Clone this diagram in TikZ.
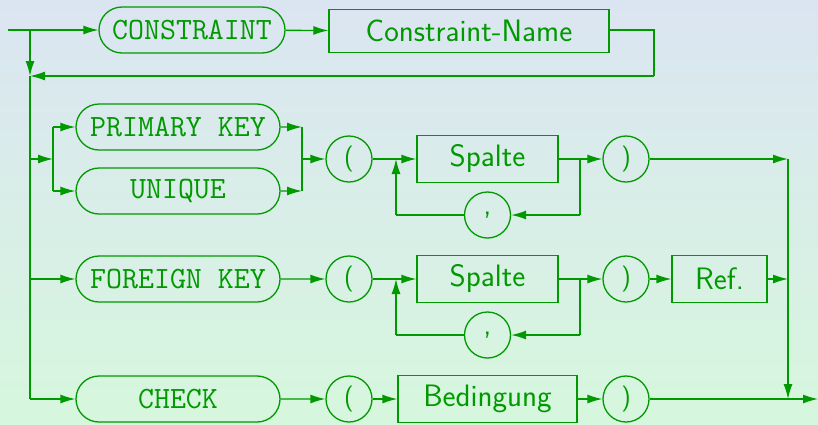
\documentclass[tikz,border=0pt]{standalone}
\usepackage{fontspec}
\usetikzlibrary{arrows.meta,shapes.misc}
\definecolor{synt}{RGB}{0,153,0}
\definecolor{bgtop}{RGB}{219,229,242}
\definecolor{bgbot}{RGB}{214,247,221}
\begin{document}
\begin{tikzpicture}[x=1pt,y=-1pt,
  every node/.style={font=\fontsize{31}{36}\selectfont, text=synt, draw=synt, line width=1.3pt, inner sep=0pt},
  kw/.style={rounded rectangle, minimum height=46pt, font=\fontsize{31}{36}\selectfont\ttfamily},
  nt/.style={rectangle, minimum height=47pt, font=\fontsize{31}{36}\selectfont\sffamily},
  tok/.style={circle, minimum size=46pt, font=\fontsize{26}{30}\selectfont\sffamily},
  line/.style={draw=synt, line width=1.3pt},
  arr/.style={line, -{Latex[length=15pt,width=9pt]}}]
  % background
  \shade[top color=bgtop, bottom color=bgbot] (0,0) rectangle (818,424);
  \useasboundingbox (0,0) rectangle (818,424);

  % nodes
  \node[kw, minimum width=186pt] (cons) at (192,30) {CONSTRAINT};
  \node[nt, minimum width=280pt, minimum height=43pt] (cname) at (469,31) {Constraint-Name};

  \node[kw, minimum width=204pt] (pk) at (178,127) {PRIMARY KEY};
  \node[kw, minimum width=204pt] (uq) at (178,191) {UNIQUE};
  \node[tok] (lp1) at (349,159) {(};
  \node[nt, minimum width=141pt] (sp1) at (487.5,159) {Spalte};
  \node[tok, font=\fontsize{31}{36}\selectfont\sffamily] (cm1) at (487.5,215) {\raisebox{4pt}{,}};
  \node[tok] (rp1) at (626,159) {)};

  \node[kw, minimum width=204pt] (fk) at (178,279) {FOREIGN KEY};
  \node[tok] (lp2) at (349,279) {(};
  \node[nt, minimum width=141pt] (sp2) at (487.5,279) {Spalte};
  \node[tok, font=\fontsize{31}{36}\selectfont\sffamily] (cm2) at (487.5,335) {\raisebox{4pt}{,}};
  \node[tok] (rp2) at (626,279) {)};
  \node[nt, minimum width=95pt] (ref) at (719.5,279) {Ref.};

  \node[kw, minimum width=204pt] (ck) at (178,399) {CHECK};
  \node[tok] (lp3) at (349,399) {(};
  \node[nt, minimum width=179pt] (bed) at (487.5,399) {Bedingung};
  \node[tok] (rp3) at (626,399) {)};

  % junction points
  \coordinate (start) at (8,30);
  \coordinate (a1) at (30,30);
  \coordinate (a2) at (30,76);
  \coordinate (a3) at (654,30);
  \coordinate (a4) at (654,76);
  \coordinate (b0) at (30,159);
  \coordinate (b1) at (53,159);
  \coordinate (b2) at (53,127);
  \coordinate (b3) at (53,191);
  \coordinate (c1) at (302,127);
  \coordinate (c2) at (302,191);
  \coordinate (c0) at (302,159);
  \coordinate (l1) at (396,159);
  \coordinate (l1b) at (396,215);
  \coordinate (m1) at (580,159);
  \coordinate (m1b) at (580,215);
  \coordinate (e1) at (788,159);
  \coordinate (f0) at (30,279);
  \coordinate (l2) at (396,279);
  \coordinate (l2b) at (396,335);
  \coordinate (m2) at (580,279);
  \coordinate (m2b) at (580,335);
  \coordinate (e2) at (788,279);
  \coordinate (g0) at (30,399);
  \coordinate (e3) at (788,399);
  \coordinate (fin) at (818,399);

  % first line: optional constraint name
  \draw[arr] (start) -- (cons);
  \draw[arr] (cons) -- (cname);
  \draw[line] (cname.east |- a3) -- (a3) -- (a4);
  \draw[arr] (a4) -- (a2);
  \draw[arr] (a1) -- (a2);
  \draw[line] (a2) -- (g0);

  % primary key / unique
  \draw[arr] (b0) -- (b1);
  \draw[line] (b2) -- (b3);
  \draw[arr] (b2) -- (pk);
  \draw[arr] (b3) -- (uq);
  \draw[arr] (pk) -- (c1);
  \draw[arr] (uq) -- (c2);
  \draw[line] (c1) -- (c2);
  \draw[arr] (c0) -- (lp1);
  \draw[arr] (lp1) -- (sp1);
  \draw[line] (sp1) -- (m1);
  \draw[arr] (m1) -- (rp1);
  \draw[line] (m1) -- (m1b);
  \draw[arr] (m1b) -- (cm1);
  \draw[line] (cm1) -- (l1b);
  \draw[arr] (l1b) -- (l1);
  \draw[arr] (rp1) -- (e1);
  \draw[arr] (e1) -- (e3);

  % foreign key
  \draw[arr] (f0) -- (fk);
  \draw[arr] (fk) -- (lp2);
  \draw[arr] (lp2) -- (sp2);
  \draw[line] (sp2) -- (m2);
  \draw[arr] (m2) -- (rp2);
  \draw[line] (m2) -- (m2b);
  \draw[arr] (m2b) -- (cm2);
  \draw[line] (cm2) -- (l2b);
  \draw[arr] (l2b) -- (l2);
  \draw[arr] (rp2) -- (ref);
  \draw[arr] (ref) -- (e2);

  % check
  \draw[arr] (g0) -- (ck);
  \draw[arr] (ck) -- (lp3);
  \draw[arr] (lp3) -- (bed);
  \draw[arr] (bed) -- (rp3);
  \draw[arr] (rp3) -- (fin);
\end{tikzpicture}
\end{document}
